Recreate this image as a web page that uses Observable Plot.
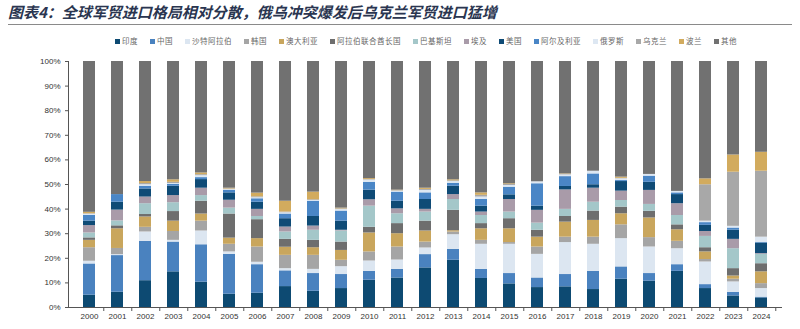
<!DOCTYPE html>
<html>
<head>
<meta charset="utf-8">
<script src="https://cdn.jsdelivr.net/npm/d3@7"></script>
<script src="https://cdn.jsdelivr.net/npm/@observablehq/plot@0.6"></script>
<style>
  html, body { margin: 0; padding: 0; background: #fff; width: 800px; height: 329px; overflow: hidden; }
  #title { position: absolute; left: 8px; top: 2px; width: 784px; height: 22px; border-bottom: 1px solid #8a8a8a;
    font-family: "Noto Sans CJK SC", sans-serif; font-weight: 700; font-style: italic; font-size: 15px;
    color: #2a3550; line-height: 20px; white-space: nowrap; }
  #legend { position: absolute; left: 115px; top: 35px; display: flex; gap: 12px; align-items: center;
    font-family: "Noto Sans CJK SC", sans-serif; font-size: 7.5px; color: #666; letter-spacing: 0.5px; white-space: nowrap; }
  #legend span.sw { display: inline-block; width: 5px; height: 5px; margin-right: 2px; vertical-align: middle; }
  #chart { position: absolute; left: 0; top: 50px; }
</style>
</head>
<body>
<div id="title">图表4：全球军贸进口格局相对分散，俄乌冲突爆发后乌克兰军贸进口猛增</div>
<div id="legend"></div>
<div id="chart"></div>
<script>
const years = ["2000","2001","2002","2003","2004","2005","2006","2007","2008","2009","2010","2011","2012","2013","2014","2015","2016","2017","2018","2019","2020","2021","2022","2023","2024"];
const countries = ["印度","中国","沙特阿拉伯","韩国","澳大利亚","阿拉伯联合酋长国","巴基斯坦","埃及","美国","阿尔及利亚","俄罗斯","乌克兰","波兰","其他"];
const colors = ["#0d4a72","#4a82bf","#dce6f1","#a5a5a5","#c9a65d","#6e6e6e","#a4c7c9","#a99ba9","#0f4b76","#4a86c6","#dde7f2","#a8a8a8","#d2ab5e","#717171"];

// shares (%) per year, 2000..2024
const india      = [5,6.2,10.9,14.5,10.3,5.4,5.8,8.5,6.6,7.7,11.1,12,16.1,19.2,11.8,9.6,8.1,8.4,7.3,11.5,10.7,14.7,7.7,4.7,3.9];
const china      = [12.7,14.9,16,12.1,15.2,16.2,11.6,6.4,7.2,5.7,3.6,3.5,5.4,4.4,3.7,4.2,3.9,5,7.4,5,3.1,2.7,1.6,1.4,0.3];
const saudi      = [1.1,0.4,3.8,0.7,5.6,1,1,0.9,1.7,3.2,4.2,3.8,2.7,6,10.2,11.9,9.6,13,11,11.5,10.8,6.5,9.2,4.3,3.5];
const korea      = [5.5,2.5,1.9,3.6,4,3.1,6.2,5.4,5.7,2.6,3.7,5.3,2.4,1.1,1.6,0.7,3,2.2,2.9,5.6,3.8,3,1,1.1,2];
const australia  = [3,8,4.2,4.2,2.9,2.5,3.4,3.3,3.1,4,7.7,5.4,4.5,0.5,4.7,5.6,4,6.1,6.8,4.5,8,4.7,3.1,1.3,4.8];
const uae        = [1,1.2,1,3.9,5.2,9.8,7.7,3.2,3,3.4,2.3,4.1,4,8.3,2.1,4.1,2.8,2.3,3.8,2.7,2.7,2,1.7,3,3.3];
const pakistan   = [2,2,4.4,3.6,2.3,2.4,1.3,3,4.1,4.5,8.6,4,3.7,4.4,3.3,2.7,2.9,2.9,3.6,2.7,2.8,3.8,4.6,8.1,3.8];
const egypt      = [3,4.4,2.7,2.9,3,3.2,2.9,2,1.7,0.3,2.6,2,1.1,2,1.4,5.1,5.2,7.9,5.7,3.8,5.7,4.8,2,3.8,0.3];
const usa        = [1.8,3.2,3.3,3.8,3.5,3,2.9,3.4,3.9,3.7,3.9,3.1,4,3.4,2.4,1.9,1.7,1.4,1.4,3.9,3.3,3.7,2.5,3.7,4.3];
const algeria    = [2.3,3.1,1.1,0.7,0.8,1,1.4,1.9,6.2,4.1,3.2,3.7,2.7,1.2,2.7,3.1,9.1,4,4.4,0.4,2.5,0.7,1.1,0.9,0.3];
const russia     = [0.5,0,0.6,0.4,0.8,0.3,0.4,0.5,0.3,0.6,0.9,0.4,1,0.7,1,0.7,0.8,0.7,1.1,0.7,0.7,0.6,0.6,0.7,2.1];
const ukraine    = [0.2,0,0.5,0.5,0.4,0.3,0.4,0.3,0.3,0.3,0.2,0.2,0.4,0.3,0.7,0.4,0,0.2,0,0.2,0,0,14.8,22,26.8];
const poland     = [0.6,0,0.8,1,0.7,0.3,1.5,4.4,3.1,0.3,0.4,0.2,0.5,0.4,1,0.3,0,0.2,0,0.5,0,0,2.4,7,7.7];
const others     = [61.3,54.1,48.8,48.1,45.3,51.5,53.5,56.8,53.1,59.6,47.6,52.3,51.5,48.1,53.4,49.7,48.9,45.7,44.6,47,45.9,52.8,47.7,38,36.9];

const series = [india, china, saudi, korea, australia, uae, pakistan, egypt, usa, algeria, russia, ukraine, poland, others];

const data = [];
years.forEach((yr, i) => {
  countries.forEach((c, k) => data.push({year: yr, country: c, value: series[k][i]}));
});

// legend
const lg = document.getElementById("legend");
countries.forEach((c, k) => {
  const item = document.createElement("div");
  item.innerHTML = `<span class="sw" style="background:${colors[k]}"></span>${c}`;
  lg.appendChild(item);
});

const chart = Plot.plot({
  width: 800,
  height: 279,
  marginLeft: 68,
  marginRight: 18,
  marginTop: 11,
  marginBottom: 22,
  style: {fontFamily: "Liberation Sans, Arial, sans-serif", fontSize: "8px", color: "#333", background: "#fff"},
  x: {type: "band", domain: years, paddingInner: 0.58, paddingOuter: 0.29, label: null},
  y: {domain: [0, 1], label: null},
  color: {domain: countries, range: colors},
  marks: [
    Plot.barY(data, Plot.stackY({offset: "normalize"}, {x: "year", y: "value", fill: "country", z: "country"})),
    Plot.axisY({ticks: 10, tickFormat: d3.format(".0%"), tickSize: 3, tickPadding: 5, label: null, stroke: "#555"}),
    Plot.axisX({tickSize: 0, tickPadding: 6, label: null}),
    Plot.frame({anchor: "left", stroke: "#555"}),
    Plot.ruleY([0], {stroke: "#555"}),
    Plot.ruleX(years, {x: d => d, y1: 0, y2: 0, dx: 14.28, insetBottom: -4, stroke: "#555"})
  ]
});
document.getElementById("chart").appendChild(chart);
</script>
</body>
</html>
